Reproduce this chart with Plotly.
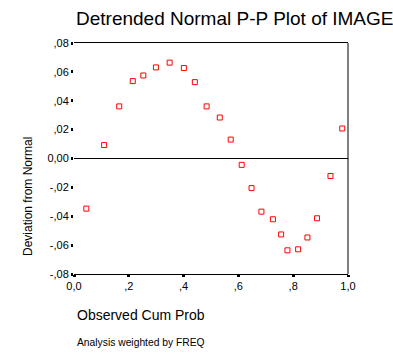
import plotly.graph_objects as go

obs_cum_prob = [0.045, 0.110, 0.165, 0.2145, 0.253, 0.299, 0.349, 0.401, 0.441, 0.484,
                0.532, 0.572, 0.612, 0.648, 0.684, 0.726, 0.756, 0.779, 0.818, 0.852,
                0.887, 0.936, 0.979]
deviation = [-0.0347, 0.0093, 0.0361, 0.0536, 0.0575, 0.0631, 0.0664, 0.0627, 0.0529, 0.0361,
             0.0284, 0.0131, -0.0044, -0.0205, -0.0368, -0.0421, -0.0526, -0.0636, -0.0629, -0.0547,
             -0.0414, -0.0121, 0.0208]

x_tick_vals = [0.0, 0.2, 0.4, 0.6, 0.8, 1.0]
x_tick_text = ["0,0", ",2", ",4", ",6", ",8", "1,0"]
y_tick_vals = [0.08, 0.06, 0.04, 0.02, 0.0, -0.02, -0.04, -0.06, -0.08]
y_tick_text = [",08", ",06", ",04", ",02", "0,00", "-,02", "-,04", "-,06", "-,08"]

FONT = "Liberation Sans, Arial, sans-serif"
W, H = 393, 361
L, R, T, B = 74, 45, 43, 87
PW, PH = W - L - R, H - T - B


def px_x(px):
    return (px - L) / PW


def px_y(py):
    return (H - B - py) / PH


fig = go.Figure()
fig.add_trace(go.Scatter(
    x=obs_cum_prob, y=deviation, mode="markers",
    marker=dict(symbol="square-open", size=5, color="#ff0000", line=dict(width=1, color="#ff0000")),
    showlegend=False, cliponaxis=False,
))

fig.update_layout(
    width=W, height=H,
    margin=dict(l=L, r=R, t=T, b=B, autoexpand=False),
    paper_bgcolor="white", plot_bgcolor="white",
    font=dict(family=FONT, color="black", size=11),
    xaxis=dict(range=[0, 1], tickvals=x_tick_vals, ticktext=x_tick_text, automargin=False,
               showgrid=False, zeroline=False, showline=True, linecolor="black", linewidth=1,
               mirror=True, ticks="outside", ticklen=2, tickwidth=3, tickcolor="black",
               tickfont=dict(size=11, family=FONT)),
    yaxis=dict(range=[-0.08, 0.08], tickvals=y_tick_vals, ticktext=y_tick_text, automargin=False,
               showgrid=False, zeroline=True, zerolinecolor="black", zerolinewidth=1,
               showline=False, ticks="outside", ticklen=2, tickwidth=3, tickcolor="black",
               tickfont=dict(size=11, family=FONT)),
    title=dict(text="Detrended Normal P-P Plot of IMAGE", x=76 / W, xanchor="left",
               y=1 - 18 / H, yanchor="middle", font=dict(size=19, family=FONT, color="black")),
)

fig.add_shape(type="line", xref="paper", yref="paper", x0=1, x1=1, y0=0, y1=1,
              line=dict(color="black", width=1))

fig.add_annotation(text="Deviation from Normal", textangle=-90, xref="paper", yref="paper",
                   x=px_x(28), y=px_y(197), xanchor="center", yanchor="middle", showarrow=False,
                   font=dict(size=12, family=FONT, color="black"))
fig.add_annotation(text="Observed Cum Prob", xref="paper", yref="paper",
                   x=px_x(75), y=px_y(315), xanchor="left", yanchor="middle", showarrow=False,
                   font=dict(size=14, family=FONT, color="black"))
fig.add_annotation(text="Analysis weighted by FREQ", xref="paper", yref="paper",
                   x=px_x(75), y=px_y(342), xanchor="left", yanchor="middle", showarrow=False,
                   font=dict(size=10.3, family=FONT, color="black"))

fig.write_html("out.html", post_script="document.body.style.margin='0';",
               config={"displayModeBar": False})
